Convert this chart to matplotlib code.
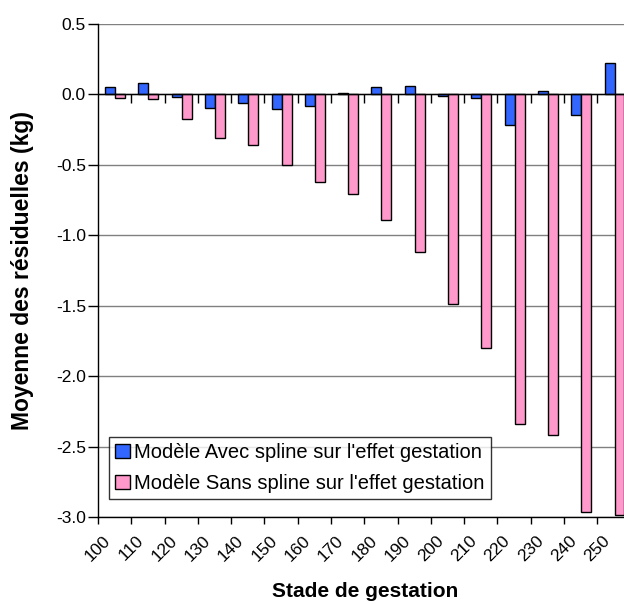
import matplotlib
matplotlib.use("Agg")
import matplotlib.pyplot as plt
import numpy as np

plt.rcParams['font.family'] = ['Liberation Sans', 'DejaVu Sans']

categories = ['100', '110', '120', '130', '140', '150', '160', '170',
              '180', '190', '200', '210', '220', '230', '240', '250']
avec_spline = [0.05, 0.078, -0.017, -0.095, -0.062, -0.10, -0.083, 0.01,
               0.05, 0.062, -0.012, -0.026, -0.218, 0.026, -0.149, 0.22]
sans_spline = [-0.028, -0.033, -0.173, -0.308, -0.358, -0.50, -0.623, -0.709,
               -0.887, -1.118, -1.484, -1.80, -2.334, -2.419, -2.964, -2.98]
label_avec = "Modèle Avec spline sur l'effet gestation"
label_sans = "Modèle Sans spline sur l'effet gestation"
yticks = [0.5, 0.0, -0.5, -1.0, -1.5, -2.0, -2.5, -3.0]

W, H = 624, 604
fig = plt.figure(figsize=(W / 100, H / 100), dpi=100)
ax_h = 517.4 - 24
ax = fig.add_axes([98 / W, 1 - 517.4 / H, (W - 98) / W, ax_h / H])

x = np.arange(len(categories))
bw = 0.30
ax.bar(x + 0.215, avec_spline, width=bw, align='edge', color='#3366FF',
       edgecolor='black', linewidth=1.0, label=label_avec, zorder=3)
ax.bar(x + 0.215 + bw, sans_spline, width=bw, align='edge', color='#FF99CC',
       edgecolor='black', linewidth=1.0, label=label_sans, zorder=3)

ax.set_xlim(0, 15.8)
ax.set_ylim(-3.0, 0.5)
ax.set_yticks(yticks)
ax.set_yticklabels([f'{v:.1f}' for v in yticks], fontsize=12.5)
ax.yaxis.grid(True, color='#808080', linewidth=1.0, zorder=0)
ax.set_axisbelow(True)

ax.set_xticks(x)
ax.set_xticklabels(categories, rotation=45, ha='center', fontsize=12.5)

# zero line with category boundary ticks
ax.axhline(0, color='black', linewidth=1.0, zorder=4)
trans = ax.get_xaxis_transform()
zero_ax = (0 - (-3.0)) / 3.5
ax.vlines(x[1:], zero_ax - 9 / ax_h, zero_ax, transform=trans,
          color='black', linewidth=1.0, zorder=4)

for s in ['top', 'right']:
    ax.spines[s].set_visible(False)
for s in ['left', 'bottom']:
    ax.spines[s].set_color('black')
    ax.spines[s].set_linewidth(1.0)
ax.tick_params(axis='y', length=7.2, width=1.0, pad=1.5, direction='out')
ax.tick_params(axis='x', length=5, width=1.0, pad=6, direction='out')

ax.set_ylabel('Moyenne des résiduelles (kg)', fontsize=16.5, fontweight='bold')
ax.yaxis.set_label_coords((34 - 98) / (W - 98), 0.5)
ax.set_xlabel('Stade de gestation', fontsize=15, fontweight='bold')
ax.xaxis.set_label_coords((365 - 98) / (W - 98), (517.4 - 582) / ax_h)

leg = ax.legend(loc='upper left', bbox_to_anchor=(109 / W, 1 - 436.5 / H),
                bbox_transform=fig.transFigure, fontsize=14.5, frameon=True,
                fancybox=False, shadow=False, borderpad=0.32, labelspacing=0.6,
                handlelength=0.72, handleheight=0.72, handletextpad=0.2,
                borderaxespad=0)
leg.get_frame().set_edgecolor('black')
leg.get_frame().set_linewidth(1.0)
leg.set_zorder(5)

fig.savefig('out.png', dpi=100)
